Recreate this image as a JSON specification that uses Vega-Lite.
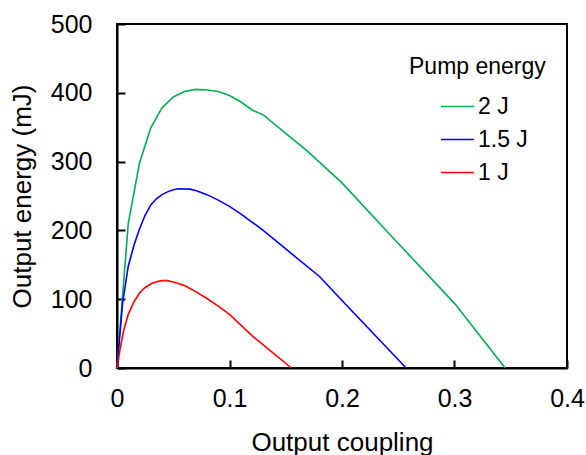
{
  "$schema": "https://vega.github.io/schema/vega-lite/v6.json",
  "width": 450,
  "height": 344,
  "autosize": {"type": "none"},
  "padding": {"left": 117, "top": 24, "right": 19, "bottom": 87},
  "background": "white",
  "config": {
    "font": "Liberation Sans",
    "view": {"stroke": "black", "strokeWidth": 2},
    "axis": {
      "grid": false,
      "domainColor": "black",
      "domainWidth": 2,
      "tickColor": "black",
      "tickWidth": 2,
      "tickSize": -8,
      "labelFont": "Liberation Sans",
      "labelFontSize": 25,
      "labelColor": "black",
      "titleFont": "Liberation Sans",
      "titleFontSize": 26,
      "titleFontWeight": "normal",
      "titleColor": "black"
    },
    "legend": {
      "labelFont": "Liberation Sans",
      "titleFont": "Liberation Sans"
    }
  },
  "data": {
    "values": [
      {"c": 0, "e": 0, "p": "2 J"},
      {"c": 0.01, "e": 210, "p": "2 J"},
      {"c": 0.02, "e": 298, "p": "2 J"},
      {"c": 0.03, "e": 349, "p": "2 J"},
      {"c": 0.04, "e": 378, "p": "2 J"},
      {"c": 0.05, "e": 394, "p": "2 J"},
      {"c": 0.06, "e": 402, "p": "2 J"},
      {"c": 0.07, "e": 405, "p": "2 J"},
      {"c": 0.08, "e": 404, "p": "2 J"},
      {"c": 0.09, "e": 402, "p": "2 J"},
      {"c": 0.1, "e": 396, "p": "2 J"},
      {"c": 0.11, "e": 387, "p": "2 J"},
      {"c": 0.12, "e": 375, "p": "2 J"},
      {"c": 0.13, "e": 368, "p": "2 J"},
      {"c": 0.15, "e": 341, "p": "2 J"},
      {"c": 0.17, "e": 314, "p": "2 J"},
      {"c": 0.2, "e": 269, "p": "2 J"},
      {"c": 0.25, "e": 181, "p": "2 J"},
      {"c": 0.3, "e": 94, "p": "2 J"},
      {"c": 0.345, "e": 0, "p": "2 J"},
      {"c": 0, "e": 0, "p": "1.5 J"},
      {"c": 0.005, "e": 95, "p": "1.5 J"},
      {"c": 0.01, "e": 148, "p": "1.5 J"},
      {"c": 0.015, "e": 178, "p": "1.5 J"},
      {"c": 0.02, "e": 202, "p": "1.5 J"},
      {"c": 0.025, "e": 222, "p": "1.5 J"},
      {"c": 0.03, "e": 237, "p": "1.5 J"},
      {"c": 0.035, "e": 246, "p": "1.5 J"},
      {"c": 0.04, "e": 252, "p": "1.5 J"},
      {"c": 0.045, "e": 256, "p": "1.5 J"},
      {"c": 0.05, "e": 259, "p": "1.5 J"},
      {"c": 0.055, "e": 260.5, "p": "1.5 J"},
      {"c": 0.065, "e": 260, "p": "1.5 J"},
      {"c": 0.07, "e": 258, "p": "1.5 J"},
      {"c": 0.08, "e": 252, "p": "1.5 J"},
      {"c": 0.09, "e": 244, "p": "1.5 J"},
      {"c": 0.1, "e": 235, "p": "1.5 J"},
      {"c": 0.11, "e": 224, "p": "1.5 J"},
      {"c": 0.12, "e": 212, "p": "1.5 J"},
      {"c": 0.13, "e": 200, "p": "1.5 J"},
      {"c": 0.15, "e": 173, "p": "1.5 J"},
      {"c": 0.18, "e": 133, "p": "1.5 J"},
      {"c": 0.2, "e": 98, "p": "1.5 J"},
      {"c": 0.257, "e": 0, "p": "1.5 J"},
      {"c": 0, "e": 0, "p": "1 J"},
      {"c": 0.003, "e": 30, "p": "1 J"},
      {"c": 0.006, "e": 55, "p": "1 J"},
      {"c": 0.01, "e": 78, "p": "1 J"},
      {"c": 0.015, "e": 96, "p": "1 J"},
      {"c": 0.02, "e": 109, "p": "1 J"},
      {"c": 0.025, "e": 117, "p": "1 J"},
      {"c": 0.03, "e": 122, "p": "1 J"},
      {"c": 0.035, "e": 125.5, "p": "1 J"},
      {"c": 0.04, "e": 127, "p": "1 J"},
      {"c": 0.045, "e": 127, "p": "1 J"},
      {"c": 0.05, "e": 125, "p": "1 J"},
      {"c": 0.06, "e": 120, "p": "1 J"},
      {"c": 0.07, "e": 111, "p": "1 J"},
      {"c": 0.08, "e": 101, "p": "1 J"},
      {"c": 0.09, "e": 90, "p": "1 J"},
      {"c": 0.1, "e": 78, "p": "1 J"},
      {"c": 0.12, "e": 47, "p": "1 J"},
      {"c": 0.14, "e": 20, "p": "1 J"},
      {"c": 0.155, "e": 0, "p": "1 J"}
    ]
  },
  "mark": {"type": "line", "strokeWidth": 1.6},
  "encoding": {
    "x": {
      "field": "c",
      "type": "quantitative",
      "scale": {"domain": [0, 0.4], "nice": false},
      "axis": {"values": [0, 0.1, 0.2, 0.3, 0.4], "format": "~g", "labelPadding": 26, "title": "Output coupling", "titlePadding": 18, "labelFlush": false}
    },
    "y": {
      "field": "e",
      "type": "quantitative",
      "scale": {"domain": [0, 500], "nice": false},
      "axis": {"values": [0, 100, 200, 300, 400, 500], "labelPadding": 33, "title": "Output energy (mJ)", "titlePadding": 15, "labelFlush": false}
    },
    "color": {
      "field": "p",
      "type": "nominal",
      "sort": ["2 J", "1.5 J", "1 J"],
      "scale": {"domain": ["2 J", "1.5 J", "1 J"], "range": ["#00b050", "#0000ff", "#ff0000"]},
      "legend": {
        "title": "Pump energy",
        "orient": "none",
        "legendX": 292,
        "legendY": 32,
        "padding": 0,
        "titleFontSize": 23,
        "titleFontWeight": "normal",
        "titleColor": "black",
        "titlePadding": 10,
        "labelFontSize": 23,
        "labelColor": "black",
        "labelOffset": 3,
        "rowPadding": 3,
        "symbolType": "stroke",
        "symbolSize": 1089,
        "symbolStrokeWidth": 1.6,
        "symbolOffset": 31
      }
    }
  }
}
